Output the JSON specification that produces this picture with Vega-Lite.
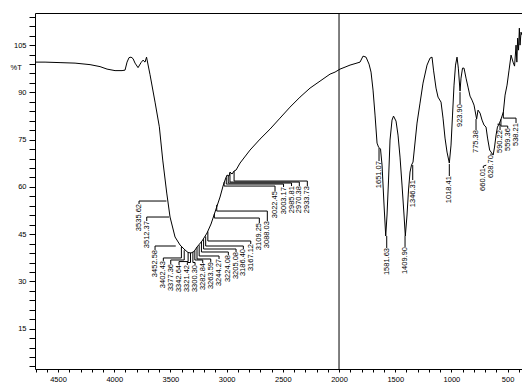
{
"$schema": "https://vega.github.io/schema/vega-lite/v6.json",
"width": 487, "height": 356,
"autosize": "none",
"padding": {"left": 35, "top": 13, "right": 0, "bottom": 22},
"background": "white",
"config": {"view": {"stroke": null}, "axis": {"domainColor": "black", "tickColor": "black", "labelColor": "black", "labelFont": "Liberation Sans", "labelFontSize": 7.5, "grid": false, "domainWidth": 1, "tickWidth": 1}},
"datasets": {
"spectrum": [
{"wn":4700,"t":99.61},{"wn":4615.7,"t":99.61},{"wn":4482.2,"t":99.45},{"wn":4348.8,"t":99.29},{"wn":4215.3,"t":98.81},{"wn":4126.3,"t":98.18},{"wn":4064.0,"t":97.39},{"wn":3992.9,"t":96.91},{"wn":3930.6,"t":96.91},{"wn":3903.9,"t":97.07},{"wn":3886.1,"t":99.61},{"wn":3868.3,"t":101.04},{"wn":3850.5,"t":101.19},{"wn":3832.7,"t":100.72},{"wn":3814.9,"t":99.29},{"wn":3788.2,"t":97.86},{"wn":3761.5,"t":99.45},{"wn":3743.7,"t":100.24},{"wn":3725.9,"t":99.61},{"wn":3712.6,"t":101.19},{"wn":3681.5,"t":95.61},{"wn":3637,"t":86.92},{"wn":3598.7,"t":79.08},{"wn":3568.5,"t":68.52},{"wn":3532.9,"t":58.05},{"wn":3503.5,"t":50.44},{"wn":3459.0,"t":44.10},{"wn":3414.6,"t":41.56},{"wn":3370.1,"t":39.97},{"wn":3343.4,"t":39.18},{"wn":3316.7,"t":39.02},{"wn":3290.0,"t":39.50},{"wn":3263.3,"t":40.93},{"wn":3218.8,"t":42.83},{"wn":3174.3,"t":45.37},{"wn":3138.8,"t":48.22},{"wn":3103.2,"t":52.03},{"wn":3058.7,"t":56.79},{"wn":3032.0,"t":60.27},{"wn":3014.2,"t":62.18},{"wn":2996.4,"t":63.76},{"wn":2978.6,"t":63.45},{"wn":2969.7,"t":64.72},{"wn":2951.9,"t":64.08},{"wn":2934.1,"t":65.03},{"wn":2916.3,"t":65.35},{"wn":2880.7,"t":67.57},{"wn":2791.8,"t":71.69},{"wn":2702.8,"t":75.18},{"wn":2613.8,"t":78.35},{"wn":2524.9,"t":81.84},{"wn":2435.9,"t":85.33},{"wn":2346.9,"t":88.51},{"wn":2257.9,"t":91.36},{"wn":2169.0,"t":93.58},{"wn":2080.0,"t":95.80},{"wn":2035.5,"t":96.44},{"wn":1991.1,"t":97.39},{"wn":1946.6,"t":98.02},{"wn":1902.1,"t":98.66},{"wn":1857.6,"t":99.13},{"wn":1813.1,"t":99.61},{"wn":1786.4,"t":101.51},{"wn":1759.7,"t":101.19},{"wn":1733.0,"t":98.97},{"wn":1715.2,"t":96.44},{"wn":1697.4,"t":90.73},{"wn":1679.6,"t":82.80},{"wn":1661.8,"t":73.91},{"wn":1648.5,"t":72.65},{"wn":1630.7,"t":72.01},{"wn":1617.3,"t":66.94},{"wn":1599.5,"t":54.25},{"wn":1584.4,"t":44.41},{"wn":1572.9,"t":51.08},{"wn":1559.5,"t":62.18},{"wn":1546.2,"t":74.87},{"wn":1528.4,"t":81.21},{"wn":1515.1,"t":82.48},{"wn":1492.8,"t":80.89},{"wn":1475.0,"t":76.45},{"wn":1457.3,"t":69.47},{"wn":1439.5,"t":60.59},{"wn":1421.7,"t":51.08},{"wn":1410.1,"t":44.41},{"wn":1395.0,"t":51.08},{"wn":1381.7,"t":59.01},{"wn":1368.3,"t":64.72},{"wn":1355.0,"t":66.94},{"wn":1341.6,"t":67.89},{"wn":1306.0,"t":80.26},{"wn":1279.3,"t":86.60},{"wn":1252.6,"t":92.95},{"wn":1217.0,"t":98.66},{"wn":1190.4,"t":100.88},{"wn":1172.6,"t":101.19},{"wn":1159.2,"t":97.07},{"wn":1137.0,"t":91.36},{"wn":1119.2,"t":88.51},{"wn":1092.5,"t":86.92},{"wn":1074.7,"t":81.84},{"wn":1056.9,"t":75.50},{"wn":1039.1,"t":71.06},{"wn":1018.6,"t":67.57},{"wn":1003.5,"t":73.28},{"wn":990.1,"t":82.80},{"wn":976.8,"t":92.31},{"wn":963.4,"t":98.66},{"wn":950.1,"t":101.19},{"wn":938.5,"t":97.70},{"wn":923.4,"t":90.41},{"wn":914.5,"t":94.53},{"wn":901.2,"t":97.70},{"wn":887.8,"t":97.70},{"wn":870.0,"t":94.53},{"wn":852.2,"t":91.68},{"wn":834.4,"t":88.82},{"wn":816.6,"t":87.55},{"wn":798.8,"t":85.97},{"wn":775.6,"t":81.53},{"wn":763.1,"t":84.38},{"wn":745.3,"t":83.43},{"wn":727.5,"t":81.21},{"wn":709.7,"t":79.62},{"wn":691.9,"t":78.99},{"wn":678.5,"t":75.50},{"wn":659.8,"t":71.69},{"wn":647.4,"t":71.06},{"wn":628.7,"t":70.11},{"wn":616.2,"t":72.65},{"wn":602.9,"t":76.45},{"wn":590.4,"t":78.99},{"wn":576.2,"t":79.94},{"wn":558.4,"t":81.53},{"wn":537.9,"t":83.75},{"wn":522.8,"t":89.14},{"wn":505.0,"t":92.31},{"wn":487.2,"t":97.07},{"wn":469.4,"t":101.83},{"wn":451.6,"t":99.61},{"wn":438.3,"t":98.34},{"wn":424.9,"t":105.0},{"wn":417.8,"t":99.61},{"wn":410.7,"t":107.22},{"wn":402.7,"t":103.41},{"wn":395.6,"t":110.39},{"wn":389.4,"t":105.0},{"wn":380.5,"t":109.12},{"wn":372,"t":108.17}
],
"labels": [
{"label":"3535.62","lx":3779.3,"top":54.57},{"label":"3512.37","lx":3710.8,"top":49.17},{"label":"3452.58","lx":3637,"top":39.97},{"label":"3402.43","lx":3563.1,"top":36.48},{"label":"3377.36","lx":3497.3,"top":35.53},{"label":"3342.64","lx":3423.5,"top":35.22},{"label":"3321.42","lx":3349.6,"top":35.22},{"label":"3300.30","lx":3281.1,"top":35.22},{"label":"3282.84","lx":3212.6,"top":35.85},{"label":"3263.59","lx":3141.4,"top":36.17},{"label":"3244.27","lx":3067.6,"top":37.12},{"label":"3224.08","lx":2984.8,"top":38.39},{"label":"3205.08","lx":2916.3,"top":39.34},{"label":"3186.40","lx":2851.4,"top":40.29},{"label":"3167.12","lx":2785.5,"top":41.88},{"label":"3109.25","lx":2709,"top":48.54},{"label":"3088.03","lx":2637.9,"top":49.17},{"label":"3022.45","lx":2569.4,"top":58.69},{"label":"3003.17","lx":2493.7,"top":59.96},{"label":"2985.81","lx":2422.6,"top":60.27},{"label":"2970.38","lx":2353.2,"top":60.27},{"label":"2933.73","lx":2282,"top":60.27},
{"label":"1651.07","lx":1644.1,"top":68.2},{"label":"1581.63","lx":1575.6,"top":40.61},{"label":"1409.90","lx":1412.7,"top":40.93},{"label":"1346.31","lx":1344.2,"top":62.18},{"label":"1018.41","lx":1018.6,"top":63.45},{"label":"923.90","lx":923.4,"top":86.29},{"label":"775.38","lx":781,"top":78.04},{"label":"660.01","lx":716.1,"top":66.0},{"label":"628.70","lx":647.6,"top":70.11},{"label":"590.22","lx":567.5,"top":78.04},{"label":"559.36","lx":499.0,"top":78.67},{"label":"538.21","lx":425.2,"top":80.26}
],
"leaders": [
{"k":"3535.62","o":0,"wn":3779.3,"t":54.57},{"k":"3535.62","o":1,"wn":3779.3,"t":55.52},{"k":"3535.62","o":2,"wn":3535.62,"t":55.52},
{"k":"3512.37","o":0,"wn":3710.8,"t":49.17},{"k":"3512.37","o":1,"wn":3710.8,"t":50.44},{"k":"3512.37","o":2,"wn":3512.37,"t":50.44},
{"k":"3452.58","o":0,"wn":3637,"t":39.97},{"k":"3452.58","o":1,"wn":3637,"t":41.24},{"k":"3452.58","o":2,"wn":3452.58,"t":41.24},
{"k":"3402.43","o":0,"wn":3563.1,"t":36.48},{"k":"3402.43","o":1,"wn":3563.1,"t":37.44},{"k":"3402.43","o":2,"wn":3402.43,"t":37.44},{"k":"3402.43","o":3,"wn":3402.43,"t":41.0},
{"k":"3377.36","o":0,"wn":3497.3,"t":35.53},{"k":"3377.36","o":1,"wn":3497.3,"t":36.8},{"k":"3377.36","o":2,"wn":3377.36,"t":36.8},{"k":"3377.36","o":3,"wn":3377.36,"t":39.9},
{"k":"3342.64","o":0,"wn":3423.5,"t":35.22},{"k":"3342.64","o":1,"wn":3423.5,"t":36.3},{"k":"3342.64","o":2,"wn":3342.64,"t":36.3},{"k":"3342.64","o":3,"wn":3342.64,"t":39.2},
{"k":"3321.42","o":0,"wn":3349.6,"t":35.22},{"k":"3321.42","o":1,"wn":3349.6,"t":36.0},{"k":"3321.42","o":2,"wn":3321.42,"t":36.0},{"k":"3321.42","o":3,"wn":3321.42,"t":39.05},
{"k":"3300.30","o":0,"wn":3281.1,"t":35.22},{"k":"3300.30","o":1,"wn":3281.1,"t":36.0},{"k":"3300.30","o":2,"wn":3300.3,"t":36.0},{"k":"3300.30","o":3,"wn":3300.3,"t":39.3},
{"k":"3282.84","o":0,"wn":3212.6,"t":35.85},{"k":"3282.84","o":1,"wn":3212.6,"t":36.8},{"k":"3282.84","o":2,"wn":3282.84,"t":36.8},{"k":"3282.84","o":3,"wn":3282.84,"t":39.8},
{"k":"3263.59","o":0,"wn":3141.4,"t":36.17},{"k":"3263.59","o":1,"wn":3141.4,"t":37.12},{"k":"3263.59","o":2,"wn":3263.59,"t":37.12},{"k":"3263.59","o":3,"wn":3263.59,"t":40.9},
{"k":"3244.27","o":0,"wn":3067.6,"t":37.12},{"k":"3244.27","o":1,"wn":3067.6,"t":38.07},{"k":"3244.27","o":2,"wn":3244.27,"t":38.07},{"k":"3244.27","o":3,"wn":3244.27,"t":41.5},
{"k":"3224.08","o":0,"wn":2984.8,"t":38.39},{"k":"3224.08","o":1,"wn":2984.8,"t":39.34},{"k":"3224.08","o":2,"wn":3224.08,"t":39.34},{"k":"3224.08","o":3,"wn":3224.08,"t":42.6},
{"k":"3205.08","o":0,"wn":2916.3,"t":39.34},{"k":"3205.08","o":1,"wn":2916.3,"t":40.29},{"k":"3205.08","o":2,"wn":3205.08,"t":40.29},{"k":"3205.08","o":3,"wn":3205.08,"t":43.4},
{"k":"3186.40","o":0,"wn":2851.4,"t":40.29},{"k":"3186.40","o":1,"wn":2851.4,"t":41.24},{"k":"3186.40","o":2,"wn":3186.4,"t":41.24},{"k":"3186.40","o":3,"wn":3186.4,"t":44.3},
{"k":"3167.12","o":0,"wn":2785.5,"t":41.88},{"k":"3167.12","o":1,"wn":2785.5,"t":42.83},{"k":"3167.12","o":2,"wn":3167.12,"t":42.83},{"k":"3167.12","o":3,"wn":3167.12,"t":45.8},
{"k":"3109.25","o":0,"wn":2709,"t":48.54},{"k":"3109.25","o":1,"wn":2709,"t":50.12},{"k":"3109.25","o":2,"wn":3109.25,"t":50.12},{"k":"3109.25","o":3,"wn":3109.25,"t":51.4},
{"k":"3088.03","o":0,"wn":2637.9,"t":49.17},{"k":"3088.03","o":1,"wn":2637.9,"t":52.34},{"k":"3088.03","o":2,"wn":3088.03,"t":52.34},{"k":"3088.03","o":3,"wn":3088.03,"t":54.3},
{"k":"3022.45","o":0,"wn":2569.4,"t":58.69},{"k":"3022.45","o":1,"wn":2569.4,"t":60.27},{"k":"3022.45","o":2,"wn":3022.45,"t":60.27},{"k":"3022.45","o":3,"wn":3022.45,"t":61.5},
{"k":"3003.17","o":0,"wn":2493.7,"t":59.96},{"k":"3003.17","o":1,"wn":2493.7,"t":60.91},{"k":"3003.17","o":2,"wn":3003.17,"t":60.91},{"k":"3003.17","o":3,"wn":3003.17,"t":63.0},
{"k":"2985.81","o":0,"wn":2422.6,"t":60.27},{"k":"2985.81","o":1,"wn":2422.6,"t":61.23},{"k":"2985.81","o":2,"wn":2985.81,"t":61.23},{"k":"2985.81","o":3,"wn":2985.81,"t":63.6},
{"k":"2970.38","o":0,"wn":2353.2,"t":60.27},{"k":"2970.38","o":1,"wn":2353.2,"t":61.54},{"k":"2970.38","o":2,"wn":2970.38,"t":61.54},{"k":"2970.38","o":3,"wn":2970.38,"t":64.5},
{"k":"2933.73","o":0,"wn":2282,"t":60.27},{"k":"2933.73","o":1,"wn":2282,"t":61.86},{"k":"2933.73","o":2,"wn":2933.73,"t":61.86},{"k":"2933.73","o":3,"wn":2933.73,"t":65.0},
{"k":"1651.07","o":0,"wn":1644.1,"t":68.2},{"k":"1651.07","o":1,"wn":1644.1,"t":72.33},
{"k":"1581.63","o":0,"wn":1575.6,"t":40.61},{"k":"1581.63","o":1,"wn":1575.6,"t":44.41},
{"k":"1409.90","o":0,"wn":1412.7,"t":40.93},{"k":"1409.90","o":1,"wn":1412.7,"t":44.41},
{"k":"1346.31","o":0,"wn":1344.2,"t":62.18},{"k":"1346.31","o":1,"wn":1344.2,"t":66.94},
{"k":"1018.41","o":0,"wn":1018.6,"t":63.45},{"k":"1018.41","o":1,"wn":1018.6,"t":67.25},
{"k":"923.90","o":0,"wn":923.4,"t":86.29},{"k":"923.90","o":1,"wn":923.4,"t":90.09},
{"k":"775.38","o":0,"wn":781,"t":78.04},{"k":"775.38","o":1,"wn":781,"t":81.53},
{"k":"660.01","o":0,"wn":716.1,"t":66.0},{"k":"660.01","o":1,"wn":716.1,"t":66.6},{"k":"660.01","o":2,"wn":690,"t":66.9},
{"k":"628.70","o":0,"wn":647.6,"t":70.11},{"k":"628.70","o":1,"wn":647.6,"t":70.6},
{"k":"590.22","o":0,"wn":567.5,"t":78.04},{"k":"590.22","o":1,"wn":567.5,"t":79.9},{"k":"590.22","o":2,"wn":590.22,"t":79.9},
{"k":"559.36","o":0,"wn":499.0,"t":78.67},{"k":"559.36","o":1,"wn":499.0,"t":79.31},{"k":"559.36","o":2,"wn":559.36,"t":79.31},{"k":"559.36","o":3,"wn":559.36,"t":81.5},
{"k":"538.21","o":0,"wn":425.2,"t":80.26},{"k":"538.21","o":1,"wn":425.2,"t":81.84},{"k":"538.21","o":2,"wn":538.21,"t":81.84},{"k":"538.21","o":3,"wn":538.21,"t":83.75}
]
},
"layer": [
{"data": {"name": "spectrum"},
 "mark": {"type": "line", "color": "black", "strokeWidth": 1, "clip": true},
 "encoding": {
  "x": {"field": "wn", "type": "quantitative", "scale": {"domain": [372, 4705], "reverse": true, "nice": false, "zero": false},
   "axis": {"values": [400,500,600,700,800,900,1000,1100,1200,1300,1400,1500,1600,1700,1800,1900,2000,2100,2200,2300,2400,2500,2600,2700,2800,2900,3000,3100,3200,3300,3400,3500,3600,3700,3800,3900,4000,4100,4200,4300,4400,4500,4600,4700],
    "labelExpr": "datum.value % 500 === 0 ? '' + datum.value : ''", "tickSize": 3, "labelPadding": 3, "title": null, "labelFlush": false, "labelOverlap": false}},
  "y": {"field": "t", "type": "quantitative", "scale": {"domain": [2.2, 115.2], "nice": false, "zero": false},
   "axis": {"values": [3,6,9,12,15,18,21,24,27,30,33,36,39,42,45,48,51,54,57,60,63,66,69,72,75,78,81,84,87,90,93,96,99,102,105,108,111,114],
    "labelExpr": "datum.value % 15 === 0 ? '' + datum.value : ''", "tickSize": 6, "labelPadding": 3, "labelOverlap": false,
    "title": "%T", "titleAngle": 0, "titleX": -25, "titleY": 54, "titleAlign": "left", "titleBaseline": "middle", "titleFont": "Liberation Sans", "titleFontSize": 7.5, "titleFontWeight": "normal", "titleColor": "black"}}
 }},
{"data": {"values": [{"wn": 2000}]},
 "mark": {"type": "rule", "color": "black", "strokeWidth": 1},
 "encoding": {"x": {"field": "wn", "type": "quantitative", "axis": {"orient": "top", "labels": false, "ticks": false, "title": null, "domain": true}}}},
{"data": {"name": "leaders"},
 "mark": {"type": "line", "color": "black", "strokeWidth": 1},
 "encoding": {
  "x": {"field": "wn", "type": "quantitative", "axis": null},
  "y": {"field": "t", "type": "quantitative", "axis": null},
  "detail": {"field": "k"},
  "order": {"field": "o"}}},
{"data": {"name": "labels"},
 "mark": {"type": "text", "angle": 270, "align": "right", "baseline": "middle", "font": "Liberation Sans", "fontSize": 7.5, "color": "black"},
 "encoding": {
  "x": {"field": "lx", "type": "quantitative", "axis": null},
  "y": {"field": "top", "type": "quantitative", "axis": null},
  "text": {"field": "label"}}}
],
"resolve": {"axis": {"x": "independent", "y": "independent"}}
}
